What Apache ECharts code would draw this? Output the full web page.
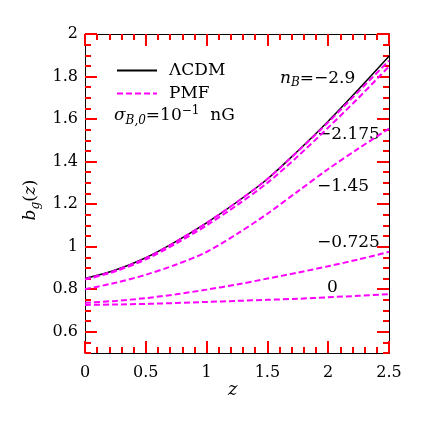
<!DOCTYPE html>
<html>
<head>
<meta charset="utf-8">
<script src="https://cdn.jsdelivr.net/npm/echarts@6/dist/echarts.min.js"></script>
<style>
  html, body { margin: 0; padding: 0; background: #fff; }
  #main { width: 421px; height: 421px; }
</style>
</head>
<body>
<div id="main"></div>
<script>
// redshift grid
const zValues = [0, 0.25, 0.5, 0.75, 1, 1.25, 1.5, 1.75, 2, 2.25, 2.5];
// LCDM bias
const lcdm = [0.85, 0.89, 0.948, 1.025, 1.112, 1.21, 1.318, 1.45, 1.59, 1.74, 1.895];
// PMF curves, one per n_B
const nBLabels = ['−2.9', '−2.175', '−1.45', '−0.725', '0'];
const pmfM29 = [0.848, 0.888, 0.946, 1.024, 1.112, 1.21, 1.318, 1.448, 1.585, 1.73, 1.875];
const pmfM2175 = [0.845, 0.884, 0.94, 1.015, 1.10, 1.195, 1.30, 1.425, 1.56, 1.70, 1.848];
const pmfM145 = [0.80, 0.83, 0.868, 0.916, 0.975, 1.06, 1.155, 1.26, 1.365, 1.462, 1.555];
const pmfM0725 = [0.736, 0.745, 0.758, 0.776, 0.798, 0.822, 0.85, 0.878, 0.908, 0.94, 0.976];
const pmf0 = [0.726, 0.728, 0.731, 0.735, 0.740, 0.745, 0.750, 0.755, 0.762, 0.769, 0.777];
// axis ticks
const yTicks = [0.6, 0.8, 1, 1.2, 1.4, 1.6, 1.8, 2];

const pmfCurves = [pmfM29, pmfM2175, pmfM145, pmfM0725, pmf0];

const FONT = 'DejaVu Serif';
const TICK = 'red';
const toPairs = arr => zValues.map((z, i) => [z, arr[i]]);

const chart = echarts.init(document.getElementById('main'));

function axLine() {
    return { show: true, lineStyle: { color: '#000', width: 1 } };
}

function xAxisCfg(pos, showLabel) {
    return {
        type: 'value', position: pos, min: 0, max: 2.5, interval: 0.5,
        axisLine: axLine(),
        axisTick: { show: true, inside: true, length: 12, lineStyle: { color: TICK, width: 2 } },
        minorTick: { show: true, splitNumber: 5, length: 6, lineStyle: { color: TICK, width: 2 } },
        splitLine: { show: false },
        axisLabel: {
            show: showLabel, margin: 12, fontFamily: FONT, fontSize: 16, color: '#000',
            formatter: v => String(v)
        }
    };
}

function yMinorCfg(pos) {
    return {
        type: 'value', position: pos, min: 0.5, max: 2, interval: 0.05,
        axisLine: axLine(),
        axisTick: { show: true, inside: true, length: 6, lineStyle: { color: TICK, width: 2 } },
        splitLine: { show: false },
        axisLabel: { show: false }
    };
}

function yMajorCfg(pos, showLabel) {
    return {
        type: 'value', position: pos, min: 0.5, max: 2,
        axisLine: axLine(),
        axisTick: { show: true, inside: true, length: 12, customValues: yTicks, lineStyle: { color: TICK, width: 2 } },
        splitLine: { show: false },
        axisLabel: {
            show: showLabel, margin: 7, fontFamily: FONT, fontSize: 16, color: '#000',
            customValues: yTicks, formatter: v => String(+v.toFixed(2))
        }
    };
}

const series = [{
    name: 'ΛCDM', type: 'line', data: toPairs(lcdm), smooth: 0.3,
    symbol: 'none', xAxisIndex: 0, yAxisIndex: 0,
    lineStyle: { color: '#000', width: 1.5 }
}];
pmfCurves.forEach(function (c) {
    series.push({
        name: 'PMF', type: 'line', data: toPairs(c), smooth: 0.3,
        symbol: 'none', xAxisIndex: 0, yAxisIndex: 0,
        lineStyle: { color: '#ff00ff', width: 2, type: [6, 3] },
        itemStyle: { color: '#ff00ff' }
    });
});

// n_B annotations
const labelPos = [[280, 81], [317, 137], [317, 189], [317, 245], [327, 290]];
const rich = {
    i: { fontFamily: FONT, fontStyle: 'italic', fontSize: 17, fill: '#000' },
    r: { fontFamily: FONT, fontSize: 17, fill: '#000' },
    sub: { fontFamily: FONT, fontStyle: 'italic', fontSize: 12, fill: '#000', padding: [9, 0, 0, 0] },
    sup: { fontFamily: FONT, fontSize: 12, fill: '#000', padding: [0, 0, 10, 0] }
};
const graphics = nBLabels.map(function (lab, i) {
    const txt = i === 0 ? '{i|n}{sub|B}{r|=' + lab + '}' : '{r|' + lab + '}';
    return {
        type: 'text', left: labelPos[i][0], top: labelPos[i][1] - 11,
        style: { text: txt, rich: rich }
    };
});
graphics.push({
    type: 'text', left: 114, top: 105,
    style: { text: '{i|σ}{sub|B,0}{r|=10}{sup|−1}{r|  nG}', rich: rich }
});
graphics.push({
    type: 'text', left: 228, top: 381,
    style: { text: 'z', font: 'italic 18px ' + FONT, fill: '#000' }
});
graphics.push({
    type: 'text', x: 31, y: 200, rotation: Math.PI / 2,
    style: {
        text: '{i|b}{sub|g}{r|(}{i|z}{r|)}', rich: rich,
        align: 'center', verticalAlign: 'middle'
    }
});

const option = {
    backgroundColor: '#fff',
    animation: false,
    grid: { left: 85, right: 32, top: 34, bottom: 68, outerBoundsMode: 'none' },
    legend: {
        data: ['ΛCDM', 'PMF'],
        orient: 'vertical', left: 116, top: 62, padding: 0,
        itemWidth: 40, itemHeight: 14, itemGap: 6,
        itemStyle: { opacity: 0 },
        textStyle: { fontFamily: FONT, fontSize: 17, color: '#000', padding: [0, 0, 0, 7] }
    },
    xAxis: [xAxisCfg('bottom', true), xAxisCfg('top', false)],
    yAxis: [yMinorCfg('left'), yMajorCfg('left', true), yMinorCfg('right'), yMajorCfg('right', false)],
    series: series,
    graphic: graphics
};

chart.setOption(option);
</script>
</body>
</html>
